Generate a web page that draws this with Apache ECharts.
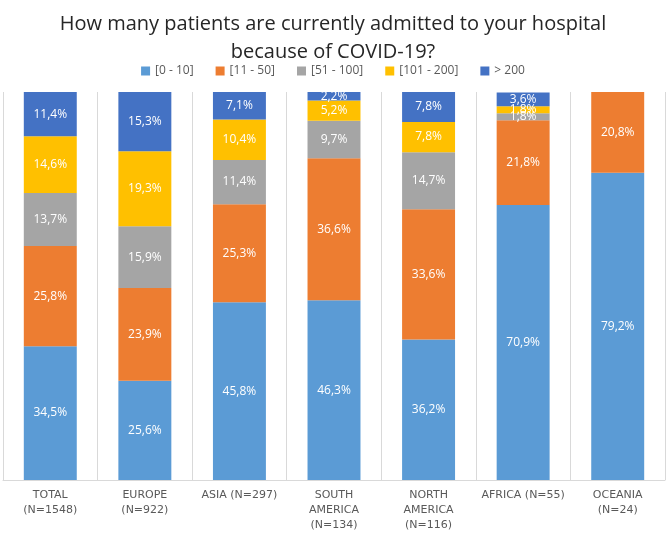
<!DOCTYPE html>
<html>
<head>
    <meta charset="UTF-8">
    <title>COVID-19 admissions</title>
    <script src="https://cdn.jsdelivr.net/npm/echarts@6/dist/echarts.min.js"></script>
    <style>
        html, body { margin: 0; padding: 0; background: #fff; }
        #chart { width: 666px; height: 533px; }
    </style>
</head>
<body>
    <div id="chart"></div>
    <script>
        var categories = ['TOTAL\n(N=1548)', 'EUROPE\n(N=922)', 'ASIA (N=297)', 'SOUTH\nAMERICA\n(N=134)',
            'NORTH\nAMERICA\n(N=116)', 'AFRICA (N=55)', 'OCEANIA\n(N=24)'];
        var seriesNames = ['[0 - 10]', '[11 - 50]', '[51 - 100]', '[101 - 200]', '> 200'];
        var s0to10 = [34.5, 25.6, 45.8, 46.3, 36.2, 70.9, 79.2];
        var s11to50 = [25.8, 23.9, 25.3, 36.6, 33.6, 21.8, 20.8];
        var s51to100 = [13.7, 15.9, 11.4, 9.7, 14.7, 1.8, 0];
        var s101to200 = [14.6, 19.3, 10.4, 5.2, 7.8, 1.8, 0];
        var sOver200 = [11.4, 15.3, 7.1, 2.2, 7.8, 3.6, 0];

        var colors = ['#5B9BD5', '#ED7D31', '#A5A5A5', '#FFC000', '#4472C4'];
        var values = [s0to10, s11to50, s51to100, s101to200, sOver200];
        var font = '"Open Sans", "Noto Sans", sans-serif';

        var series = values.map(function (data, i) {
            return {
                name: seriesNames[i],
                type: 'bar',
                stack: 'all',
                barWidth: '56%',
                data: data,
                itemStyle: { color: colors[i] },
                label: {
                    show: true,
                    position: 'inside',
                    color: '#fff',
                    fontSize: 12,
                    fontFamily: font,
                    formatter: function (p) {
                        return p.value > 0 ? p.value.toFixed(1).replace('.', ',') + '%' : '';
                    }
                }
            };
        });

        var chart = echarts.init(document.getElementById('chart'));
        chart.setOption({
            animation: false,
            color: colors,
            title: {
                text: 'How many patients are currently admitted to your hospital\nbecause of COVID-19?',
                left: 'center',
                top: 5,
                textStyle: {
                    fontFamily: font,
                    fontSize: 20,
                    fontWeight: 'normal',
                    color: '#262626',
                    lineHeight: 28
                }
            },
            legend: {
                top: 60,
                left: 'center',
                itemWidth: 9,
                itemHeight: 9,
                itemGap: 22,
                icon: 'rect',
                textStyle: { fontFamily: font, fontSize: 12, color: '#595959' },
                data: seriesNames
            },
            grid: { left: 3, right: 1, top: 92, bottom: 52 },
            xAxis: {
                type: 'category',
                data: categories,
                axisTick: { show: false },
                axisLine: { lineStyle: { color: '#D9D9D9' } },
                splitLine: { show: true, lineStyle: { color: '#D9D9D9' } },
                axisLabel: {
                    interval: 0,
                    margin: 8,
                    fontFamily: '"DejaVu Sans", sans-serif',
                    fontSize: 11,
                    color: '#595959',
                    lineHeight: 15
                }
            },
            yAxis: {
                type: 'value',
                min: 0,
                max: 100,
                show: false
            },
            series: series
        });
    </script>
</body>
</html>
